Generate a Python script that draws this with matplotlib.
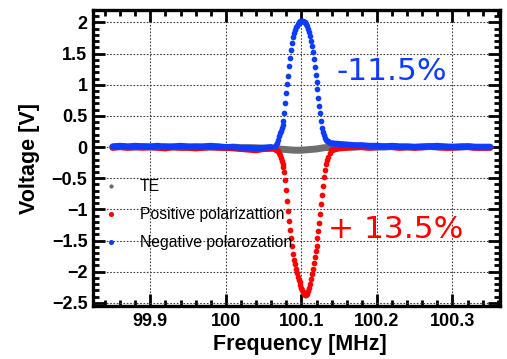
import matplotlib
matplotlib.use("Agg")
from matplotlib import pyplot as plt
from matplotlib.ticker import MultipleLocator

# baseline samples (MHz) left and right of the resonance
freq_left = [99.85, 99.86, 99.87, 99.88, 99.89, 99.90, 99.91, 99.92, 99.93, 99.94, 99.95,
             99.96, 99.97, 99.98, 99.99, 100.00, 100.01, 100.02, 100.03, 100.04, 100.05, 100.06]
freq_right = [100.14, 100.15, 100.16, 100.17, 100.18, 100.19, 100.20, 100.21, 100.22, 100.23, 100.24,
              100.25, 100.26, 100.27, 100.28, 100.29, 100.30, 100.31, 100.32, 100.33, 100.34, 100.35]

# dense samples across the resonance
freq_peak = [100.06500, 100.06625, 100.06750, 100.06875, 100.07000, 100.07125, 100.07250, 100.07375,
             100.07500, 100.07625, 100.07750, 100.07875, 100.08000, 100.08125, 100.08250, 100.08375,
             100.08500, 100.08625, 100.08750, 100.08875, 100.09000, 100.09125, 100.09250, 100.09375,
             100.09500, 100.09625, 100.09750, 100.09875, 100.10000, 100.10125, 100.10250, 100.10375,
             100.10500, 100.10625, 100.10750, 100.10875, 100.11000, 100.11125, 100.11250, 100.11375,
             100.11500, 100.11625, 100.11750, 100.11875, 100.12000, 100.12125, 100.12250, 100.12375,
             100.12500, 100.12625, 100.12750, 100.12875, 100.13000, 100.13125, 100.13250, 100.13375,
             100.13500, 100.13750, 100.14000]

# Negative polarization (blue)
neg_left = [0.01, 0.02, 0.01, 0.02, 0.01, 0.01, 0.02, 0.00, 0.01, 0.02, 0.01,
            0.00, 0.01, 0.02, 0.01, 0.00, 0.00, -0.01, -0.01, -0.02, -0.01, 0.00]
neg_peak = [0.02, 0.03, 0.06, 0.12, 0.18, 0.22, 0.26, 0.30,
            0.35, 0.42, 0.55, 0.70, 0.87, 1.01, 1.14, 1.30,
            1.43, 1.56, 1.67, 1.76, 1.83, 1.88, 1.92, 1.95,
            1.98, 2.00, 2.01, 2.02, 2.03, 2.03, 2.02, 2.01,
            2.00, 1.98, 1.95, 1.90, 1.85, 1.78, 1.71, 1.63,
            1.53, 1.41, 1.28, 1.16, 1.05, 0.93, 0.79, 0.66,
            0.54, 0.42, 0.31, 0.24, 0.19, 0.15, 0.12, 0.10,
            0.09, 0.07, 0.06]
neg_right = [0.06, 0.05, 0.04, 0.03, 0.03, 0.02, 0.02, 0.01, 0.02, 0.01, 0.01,
             0.00, 0.01, 0.01, 0.02, 0.01, 0.00, 0.01, 0.01, 0.00, 0.00, 0.00]

# Positive polarization (red)
pos_left = [-0.01, 0.00, -0.01, 0.00, -0.01, 0.00, -0.01, -0.02, 0.00, -0.01, -0.01,
            -0.02, -0.01, 0.00, -0.01, -0.01, -0.02, -0.03, -0.04, -0.05, -0.03, -0.02]
pos_peak = [-0.03, -0.04, -0.05, -0.07, -0.09, -0.12, -0.17, -0.22,
            -0.27, -0.32, -0.40, -0.53, -0.69, -0.86, -1.02, -1.19,
            -1.33, -1.46, -1.59, -1.72, -1.81, -1.88, -1.96, -2.02,
            -2.08, -2.13, -2.17, -2.21, -2.26, -2.30, -2.33, -2.36,
            -2.38, -2.37, -2.35, -2.31, -2.26, -2.20, -2.12, -2.04,
            -1.96, -1.86, -1.77, -1.67, -1.58, -1.46, -1.35, -1.22,
            -1.07, -0.92, -0.77, -0.62, -0.48, -0.36, -0.27, -0.20,
            -0.16, -0.09, -0.05]
pos_right = [-0.05, -0.02, -0.01, 0.00, 0.00, -0.01, 0.00, 0.01, 0.00, -0.01, 0.00,
             -0.01, 0.00, 0.01, 0.00, -0.01, -0.01, 0.00, 0.00, -0.01, -0.01, -0.01]

# TE signal (gray)
te_mid_freq = [100.07, 100.08, 100.09, 100.10, 100.11, 100.12, 100.13]
te_left = [0.00, 0.01, 0.00, 0.00, 0.01, 0.00, 0.00, 0.01, 0.00, 0.00, 0.00,
           0.01, 0.00, 0.00, 0.00, -0.01, 0.00, -0.01, -0.01, -0.01, -0.02, -0.02]
te_mid = [-0.03, -0.04, -0.05, -0.05, -0.04, -0.03, -0.01]
te_right = [0.00, 0.01, 0.00, 0.00, 0.01, 0.00, 0.00, 0.00, 0.01, 0.00, 0.00,
            0.00, 0.00, 0.01, 0.00, 0.00, 0.00, 0.00, 0.01, 0.00, 0.00, 0.00]

labels = ['TE', 'Positive polarizattion', 'Negative polarozation']

c_te = '#6e6e6e'
c_pos = '#ff0000'
c_neg = '#0d3cff'

plt.rcParams['font.family'] = ['Liberation Sans', 'DejaVu Sans']

fig = plt.figure(figsize=(5.07, 3.59), dpi=100)
ax = fig.add_axes([93/507, 1 - 306/359, 407/507, 296/359])

band = 4.4
ms = 4.1

# TE
te_freq = freq_left + te_mid_freq + freq_right
ax.plot(te_freq, te_left + te_mid + te_right, color=c_te, lw=5.0,
        solid_capstyle='round', zorder=2)
h_te, = ax.plot([], [], 'o', color=c_te, ms=3.4, mew=0)

# positive
for f, v in ((freq_left, pos_left), (freq_right, pos_right)):
    ax.plot(f, v, color=c_pos, lw=band, solid_capstyle='round', zorder=3)
h_pos, = ax.plot(freq_peak, pos_peak, 'o', color=c_pos, ms=ms, mew=0, zorder=3)

# negative
for f, v in ((freq_left, neg_left), (freq_right, neg_right)):
    ax.plot(f, v, color=c_neg, lw=band, solid_capstyle='round', zorder=4)
h_neg, = ax.plot(freq_peak, neg_peak, 'o', color=c_neg, ms=ms, mew=0, zorder=4)

ax.set_xlim(99.824, 100.363)
ax.set_ylim(-2.55, 2.2)

ax.xaxis.set_minor_locator(MultipleLocator(0.02))
ax.yaxis.set_minor_locator(MultipleLocator(0.1))
ax.set_xticks([99.9, 100.0, 100.1, 100.2, 100.3])
ax.set_xticklabels(['99.9', '100', '100.1', '100.2', '100.3'])
ax.set_yticks([-2.5, -2, -1.5, -1, -0.5, 0, 0.5, 1, 1.5, 2])
ax.set_yticklabels(['\u22122.5', '\u22122', '\u22121.5', '\u22121', '\u22120.5',
                    '0', '0.5', '1', '1.5', '2'])

ax.tick_params(which='both', direction='in', top=True, right=True, width=2, colors='black')
ax.tick_params(which='major', length=8.5)
ax.tick_params(which='minor', length=4)
ax.tick_params(axis='x', pad=5, labelsize=13)
ax.tick_params(axis='y', pad=4, labelsize=13)
for lab in ax.get_xticklabels() + ax.get_yticklabels():
    lab.set_fontweight('bold')
for sp in ax.spines.values():
    sp.set_linewidth(2.4)

ax.grid(True, which='major', color='0.25', linestyle=(0, (1.5, 1.5)), lw=0.8)
ax.set_axisbelow(True)

ax.set_xlabel('Frequency [MHz]', fontsize=15.5, fontweight='bold')
ax.set_ylabel('Voltage [V]', fontsize=15.5, fontweight='bold')
ax.xaxis.set_label_coords(0.509, -0.095)
ax.yaxis.set_label_coords(-0.13, 0.5)

ax.legend([h_te, h_pos, h_neg], labels, loc='upper left', bbox_to_anchor=(0.026, 0.428),
          frameon=False, fontsize=11.3, handlelength=1.0, handletextpad=1.3,
          labelspacing=0.82, borderpad=0, borderaxespad=0, markerscale=0.9)

ax.text(100.147, 1.08, '-11.5%', color=c_neg, fontsize=22.5, family='DejaVu Sans',
        ha='left', va='baseline')
ax.text(100.135, -1.456, '+ 13.5%', color=c_pos, fontsize=22.5, family='DejaVu Sans',
        ha='left', va='baseline')

fig.savefig('out.png', dpi=100)
